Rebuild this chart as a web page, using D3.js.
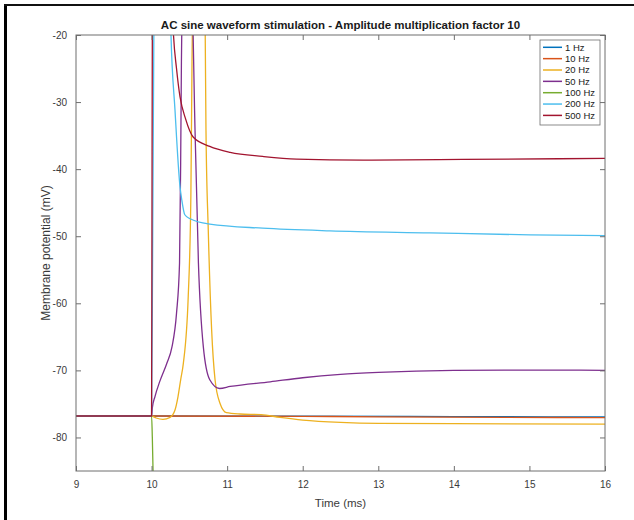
<!DOCTYPE html>
<html><head><meta charset="utf-8">
<script src="https://cdn.jsdelivr.net/npm/d3@7"></script>
<style>
html,body{margin:0;padding:0;background:#fff;}
svg{display:block;font-family:"Liberation Sans",Arial,Helvetica,sans-serif;}
</style></head>
<body>
<svg id="c" width="634" height="520"></svg>
<script>
// ---- data ----
const titleText = "AC sine waveform stimulation - Amplitude multiplication factor 10";
const xLabel = "Time (ms)";
const yLabel = "Membrane potential (mV)";
const xTicks = [9, 10, 11, 12, 13, 14, 15, 16];
const yTicks = [-80, -70, -60, -50, -40, -30, -20];
const seriesNames = ["1 Hz", "10 Hz", "20 Hz", "50 Hz", "100 Hz", "200 Hz", "500 Hz"];
const seriesColors = ["#0072BD", "#D95319", "#EDB120", "#7E2F8E", "#77AC30", "#4DBEEE", "#A2142F"];

const hz1 = [[9,-76.8],[10,-76.8],[12,-76.82],[14,-76.88],[16,-76.95]];
const hz10 = [[9,-76.8],[10,-76.8],[12,-76.85],[13,-76.92],[14.7,-77.0],[16,-77.05]];
const hz20 = [[9,-76.8],[10,-76.8],[10.06,-77.1],[10.15,-77.3],[10.245,-77.0],[10.31,-75.9],[10.35,-73.9],
  [10.385,-71.4],[10.42,-69],[10.485,-59],[10.52,-44],[10.535,-24],[10.56,0],[10.62,25],[10.68,0],
  [10.71,-20],[10.72,-34.2],[10.75,-49],[10.795,-64],[10.84,-71.4],[10.905,-74.9],[10.99,-76.3],
  [11.17,-76.5],[11.45,-76.6],[11.7,-77.0],[12,-77.4],[12.5,-77.75],[13,-77.9],[14,-77.95],[16,-78.0]];
const hz50 = [[9,-76.8],[10,-76.8],[10.01,-75.6],[10.045,-73.9],[10.11,-71.6],[10.2,-69],[10.27,-66.5],
  [10.33,-61.5],[10.37,-54],[10.385,-39],[10.395,-24],[10.42,0],[10.47,25],[10.53,0],[10.55,-20],
  [10.575,-34.2],[10.62,-54],[10.685,-66.5],[10.77,-71.4],[10.9,-72.7],[11.04,-72.4],[11.57,-71.7],
  [12,-71.1],[12.5,-70.6],[13,-70.3],[14,-70.0],[15,-69.95],[16,-70.0]];
const hz100 = [[9,-76.8],[10,-76.8],[10.01,-80],[10.025,-88],[10.05,-100],[10.2,-120],[16,-120]];
const hz200 = [[9,-76.8],[10,-76.8],[10.015,-50],[10.03,-20],[10.06,10],[10.15,20],[10.22,0],[10.257,-20],
  [10.31,-31.2],[10.376,-42.6],[10.40,-44.6],[10.44,-46.8],[10.51,-47.4],[10.77,-48.2],[11.47,-48.8],
  [12.36,-49.2],[13.68,-49.5],[15.01,-49.8],[16,-49.9]];
const hz500 = [[9,-76.8],[10,-76.8],[10.005,-50],[10.01,-20],[10.05,15],[10.2,10],[10.27,-15],[10.29,-20],
  [10.33,-25],[10.376,-29.2],[10.45,-32.5],[10.55,-35.2],[10.77,-36.6],[11.04,-37.5],[11.47,-38.1],
  [11.92,-38.5],[12.8,-38.65],[14.12,-38.55],[16,-38.4]];
const allSeries = [hz1, hz10, hz20, hz50, hz100, hz200, hz500];

// ---- layout ----
const svg = d3.select("#c");
const L = 76, R = 605, T = 35, B = 471;
const x = d3.scaleLinear().domain([9, 16]).range([L, R]);
const y = d3.scaleLinear().domain([-85, -20]).range([B, T]);
const axisColor = "#6e6e6e", textColor = "#3a3a3a";

// outer frame (black border on left and top)
svg.append("rect").attr("x", 4).attr("y", 4).attr("width", 3).attr("height", 516).attr("fill", "#000");
svg.append("rect").attr("x", 4).attr("y", 4).attr("width", 630).attr("height", 2).attr("fill", "#111");

// clip
svg.append("clipPath").attr("id", "clip").append("rect")
  .attr("x", L).attr("y", T).attr("width", R - L).attr("height", B - T);

const line = d3.line().x(d => x(d[0])).y(d => y(d[1])).curve(d3.curveMonotoneX);
const g = svg.append("g").attr("clip-path", "url(#clip)");
allSeries.forEach((s, i) => {
  g.append("path").attr("d", line(s)).attr("fill", "none")
    .attr("stroke", seriesColors[i]).attr("stroke-width", 1.3);
});

// axes
function styleAxis(sel) {
  sel.select(".domain").remove();
  sel.selectAll(".tick line").attr("stroke", axisColor);
  sel.selectAll(".tick text").attr("fill", textColor).style("font-size", "10px")
    .style("font-family", "'Liberation Sans',Arial,sans-serif");
}
const xb = svg.append("g").attr("transform", `translate(0,${B})`)
  .call(d3.axisBottom(x).tickValues(xTicks).tickFormat(d3.format("d")).tickSizeInner(-5).tickPadding(10));
styleAxis(xb);
const xt = svg.append("g").attr("transform", `translate(0,${T})`)
  .call(d3.axisTop(x).tickValues(xTicks).tickFormat("").tickSizeInner(-5));
styleAxis(xt);
const yl = svg.append("g").attr("transform", `translate(${L},0)`)
  .call(d3.axisLeft(y).tickValues(yTicks).tickFormat(d3.format("d")).tickSizeInner(-5).tickPadding(9));
styleAxis(yl);
const yr = svg.append("g").attr("transform", `translate(${R},0)`)
  .call(d3.axisRight(y).tickValues(yTicks).tickFormat("").tickSizeInner(-5));
styleAxis(yr);
yl.selectAll(".tick text").each(function(){ d3.select(this).text(d3.select(this).text().replace("−","-")); });

svg.append("rect").attr("x", L).attr("y", T).attr("width", R - L).attr("height", B - T)
  .attr("fill", "none").attr("stroke", axisColor).attr("stroke-width", 1);

// labels
svg.append("text").attr("x", (L + R) / 2).attr("y", 29).attr("text-anchor", "middle")
  .attr("font-weight", "bold").attr("font-size", 11.5).attr("fill", "#1a1a1a").text(titleText);
svg.append("text").attr("x", (L + R) / 2).attr("y", 507).attr("text-anchor", "middle")
  .attr("font-size", 11.5).attr("fill", textColor).text(xLabel);
svg.append("text").attr("transform", `translate(50,${(T + B) / 2}) rotate(-90)`).attr("text-anchor", "middle")
  .attr("font-size", 12).attr("fill", textColor).text(yLabel);

// legend
const lg = svg.append("g");
lg.append("rect").attr("x", 540).attr("y", 40).attr("width", 60).attr("height", 85)
  .attr("fill", "#fff").attr("stroke", axisColor).attr("stroke-width", 0.8);
seriesNames.forEach((n, i) => {
  const yy = 47.3 + i * 11.35;
  lg.append("line").attr("x1", 543).attr("x2", 562).attr("y1", yy).attr("y2", yy)
    .attr("stroke", seriesColors[i]).attr("stroke-width", 1.5);
  lg.append("text").attr("x", 565).attr("y", yy + 3.4).attr("font-size", 9.5)
    .attr("fill", "#1a1a1a").text(n);
});
</script>
</body></html>
